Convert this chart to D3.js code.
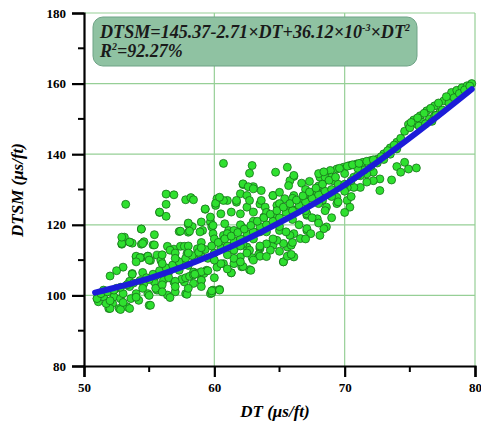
<!DOCTYPE html>
<html>
<head>
<meta charset="utf-8">
<script src="https://cdn.jsdelivr.net/npm/d3@7"></script>
<style>
  body { margin: 0; background: #fff; }
  svg { display: block; font-family: "Liberation Serif", "Times New Roman", serif; }
</style>
</head>
<body>
<div id="chart"></div>
<script>
var scatterPoints = [
  [53.2,125.8],[56.3,128.7],[56.9,128.5],[56.3,125.8],[55.8,123.5],[56.3,122.4],[57.8,127.1],[58.2,127.7],
  [58.4,127.1],[59.3,124.4],[54.4,118.8],[53.1,116.5],[55.4,117.2],[58.0,120.1],[57.3,118.1],[58.0,117.9],
  [58.3,119.5],[52.9,114.5],[53.5,115.1],[54.6,115.2],[54.4,114.5],[55.3,114.3],[56.4,113.9],[54.0,110.9],
  [54.4,110.7],[54.9,111.1],[55.6,111.4],[56.9,113.1],[57.4,113.9],[59.1,118.4],[59.7,120.8],
  [52.9,114.7],[53.7,114.8],[54.5,114.7],[55.4,114.3],[54.0,111.1],[54.9,111.1],[53.7,106.2],
  [51.0,99.1],[51.1,98.2],[51.8,98.2],[52.2,97.7],[52.7,96.3],[53.3,96.8],[51.9,96.3],[51.5,99.6],
  [52.3,99.6],[52.8,99.1],[53.6,99.1],[54.2,98.6],[55.0,97.2],[54.0,100.5],[54.9,100.5],[55.6,101.5],
  [56.4,100.1],[57.0,101.0],[57.8,100.5],[59.7,100.5],[54.6,103.4],[55.4,103.8],[56.1,104.3],[56.9,103.8],
  [57.7,103.8],[58.4,103.4],[59.0,104.3],[55.8,106.2],[56.5,106.6],[57.3,107.1],[58.4,106.6],[59.2,106.2],
  [55.1,109.9],[55.9,109.9],[56.6,112.8],[57.1,109.9],[57.9,111.8],[58.7,113.2],[57.7,113.9],
  [60.7,137.4],[62.9,136.8],[62.7,134.6],[64.7,134.9],[65.6,136.3],[66.1,133.7],[66.7,131.8],[65.8,132.5],
  [62.2,131.4],[63.0,130.8],[63.6,129.7],[64.5,128.3],[60.2,127.4],[61.0,126.9],[61.7,126.4],[59.3,124.5],
  [60.1,125.5],[62.5,125.0],[63.5,125.9],[64.9,125.0],[66.1,124.1],[67.1,122.7],[58.0,120.5],[58.1,118.2],
  [57.4,118.2],[58.9,118.0],[59.8,119.4],[61.1,118.4],[62.1,119.4],[63.5,118.0],[65.0,118.4],[66.1,117.5],
  [67.1,118.4],[60.4,115.1],[61.5,114.7],[62.5,113.7],[63.5,113.2],[64.5,114.2],[65.6,113.7],[66.1,110.9],
  [65.3,109.5],[63.4,111.6],[62.1,108.1],[62.7,107.3],[61.3,106.4],[59.9,101.5],[60.4,101.7],[59.8,100.7],
  [57.9,100.3],[56.6,99.4],[55.1,97.2],[53.5,96.3],[52.8,96.0],[52.0,96.3],[51.7,97.7],[51.0,99.1],
  [55.8,123.6],[54.4,118.8],[52.9,116.5],[53.5,115.1],[54.3,110.7],[53.7,106.0],
  [66.1,134.0],[60.1,126.1],[60.7,126.9],[60.4,127.8],[62.2,131.6],[62.6,130.8],[63.0,130.2],[64.5,128.3],
  [65.0,129.2],[65.7,131.1],[67.3,132.3],[68.1,133.5],[68.6,132.7],[62.0,128.8],[62.5,128.3],[61.7,126.9],
  [62.7,126.9],[63.6,126.9],[63.9,125.0],[64.8,125.5],[65.4,127.4],[66.1,128.3],[66.6,126.4],[67.4,128.3],
  [67.9,129.2],[68.3,126.9],[59.7,122.2],[60.5,123.1],[61.3,123.6],[62.0,123.1],[63.0,123.6],[63.8,122.2],
  [64.7,122.7],[65.6,124.1],[66.4,124.5],[67.1,123.1],[67.9,121.7],[68.6,119.4],[68.4,118.9],[67.1,118.9],
  [59.0,120.8],[59.9,119.8],[60.8,120.3],[61.5,118.4],[59.9,117.5],[60.7,117.0],
  [59.8,101.3],[60.4,101.5],[61.3,106.4],[62.2,108.2],[62.8,107.1],[62.9,110.7],[63.5,111.1],[64.3,112.8],
  [65.3,109.5],[65.6,111.1],[65.9,111.6],[65.9,114.2],[65.3,114.7],[64.8,115.6],[66.6,116.1],[65.8,117.0],
  [67.4,117.5],[68.1,117.0],[59.0,104.3],[59.4,107.1],[60.2,108.0],[60.7,109.0],[61.5,109.0],[62.0,110.9],
  [62.7,112.8],[63.5,113.7],[64.0,114.6],[62.2,114.6],[61.5,112.8],
  [78.2,157.5],[78.6,158.1],[79.0,158.8],[79.4,159.4],[79.75,160.0],[77.6,155.1],[76.9,153.7],[76.3,152.3],
  [75.8,150.9],[75.3,149.7],[74.9,148.4],[75.5,148.6],[76.0,149.0],[76.5,150.0],[76.9,150.9],[77.3,151.9],
  [74.0,143.4],[73.5,141.8],[73.0,140.1],[72.5,138.6],[72.0,138.2],[71.4,137.7],[70.9,137.2],[70.4,136.8],
  [69.9,136.3],[69.4,135.8],[68.9,135.4],[74.0,136.5],[74.6,137.7],[74.9,135.8],[75.5,136.1],[74.3,134.9],
  [73.6,132.7],[72.7,129.7],[72.7,133.0],[72.2,132.5],[71.7,132.1],[71.2,130.6],[70.7,130.6],[70.2,130.5],
  [72.2,134.9],[71.7,134.4],[71.2,133.9],[70.7,133.5],[69.1,132.5],[68.5,133.5],[68.6,128.8],[69.4,127.8],
  [70.2,126.9],[69.4,126.0],[68.6,125.0],[70.4,125.0],
  [57.5,104.6],[57.8,105.0],[58.1,105.4],[58.4,105.8],[58.7,106.3],[59.0,106.7],
  [55.0,104.5],[55.5,105.5],[56.0,106.5],[56.5,105.0],[57.0,108.0],[57.5,109.0],[58.0,108.5],[58.5,110.0],
  [59.0,111.0],[59.5,110.5],[60.0,112.0],[60.5,113.5],[61.0,114.0],[61.5,115.5],[62.0,116.0],[62.5,117.5],
  [63.0,118.0],[63.5,119.5],[64.0,120.0],[64.5,121.0],[65.0,122.0],[65.5,123.5],[66.0,124.0],[66.5,125.5],
  [67.0,126.5],[67.5,127.5],[68.0,128.5],[68.5,129.5],[69.0,130.0],[69.5,131.5],[70.0,131.5],[70.5,132.5],
  [71.0,134.0],[71.5,135.5],[72.0,136.5],[72.5,137.5],[73.0,138.5],[73.5,140.0],[74.0,141.5],
  [55.5,102.0],[56.0,103.0],[57.0,104.0],[58.5,106.0],[59.5,107.0],[60.5,109.0],[61.5,110.5],[62.5,112.0],
  [63.5,114.0],[64.5,116.0],[65.5,118.0],[66.5,120.0],[67.5,122.0],[68.5,124.0],[69.5,126.5],[70.5,128.0],
  [53.0,108.0],[54.0,109.5],[55.0,110.0],[56.0,111.5],[57.0,112.0],[58.0,114.0],[59.0,115.0],[60.0,116.0],
  [61.0,117.5],[62.0,120.0],[63.0,121.0],[64.0,123.5],[65.0,126.0],[66.0,127.5],[67.0,130.0],[68.0,131.0],
  [69.0,133.5],[70.0,134.5],[71.0,136.0],[52.0,105.5],[52.5,107.0],[53.5,104.0],[54.5,106.5],
  [51.5,101.5],[52.5,102.0],[53.0,100.5],[53.5,102.5],[54.5,102.0],
  // dense core along the trend
  [51.3,100.5],[51.8,101.0],[52.3,101.5],[52.8,102.3],[53.3,103.0],[53.8,103.5],[54.3,104.2],[54.8,105.0],
  [55.3,106.0],[55.8,107.0],[56.3,107.8],[56.8,108.6],[57.3,109.5],[57.8,110.5],[58.3,111.3],[58.8,112.2],
  [59.3,113.0],[59.8,114.0],[60.3,115.0],[60.8,116.0],[61.3,116.8],[61.8,117.8],[62.3,118.8],[62.8,119.8],
  [63.3,121.0],[63.8,122.0],[64.3,123.0],[64.8,124.0],[65.3,125.0],[65.8,126.0],[66.3,127.0],[66.8,128.2],
  [67.3,129.3],[67.8,130.4],[68.3,131.5],[68.8,132.6],[69.3,133.5],
  [52.0,98.5],[53.0,98.0],[54.0,99.5],[55.0,100.0],[56.0,101.0],[57.0,102.5],[58.0,102.0],[59.0,102.5],
  [60.0,105.0],[61.0,107.5],[62.0,109.5],[63.0,110.0],[64.0,111.0],[65.0,112.5],[66.0,115.0],[67.0,116.0],
  [68.0,120.5],[69.0,122.0],[70.0,123.5],
  [56.0,109.0],[57.0,110.5],[58.0,112.0],[59.0,113.5],[60.0,110.0],[61.0,111.5],[62.0,114.0],[63.0,116.0],
  [64.0,118.0],[65.0,119.5],[66.0,121.5],[67.0,124.0],[68.0,126.0],[69.0,128.0],[70.0,129.5],
  // upper trail
  [68.0,134.5],[68.4,135.0],[69.6,136.0],[70.2,136.6],[70.6,137.0],[71.1,137.4],[71.7,138.0],[72.2,138.4],
  [72.8,139.3],[73.3,141.0],[73.8,142.6],[74.3,144.5],[74.6,146.5],[75.0,147.5],[75.7,148.0],[76.2,148.6],
  [76.7,149.3],[77.0,151.0],[77.5,152.5],[78.0,154.5],[78.4,156.0],[78.8,157.2],[79.2,158.2],[79.6,159.3],
  [77.8,156.3],[77.2,154.5],[76.6,153.0],[76.1,151.6],[75.6,150.3],[75.1,149.0]
];

// fitted curve
var fitDT   = [50.85, 55, 60, 65, 70, 75, 79.75];
var fitDTSM = [100.8, 104.8, 111.7, 120.6, 131.3, 144.6, 158.4];

var xTicks = [50, 60, 70, 80];
var yTicks = [80, 100, 120, 140, 160, 180];
var xMinor = [55, 65, 75];
var yMinor = [90, 110, 130, 150, 170];

var width = 481, height = 424;
var margin = {top: 13, right: 6, bottom: 58, left: 84};

var x = d3.scaleLinear().domain([50, 80]).range([margin.left, width - margin.right]);
var y = d3.scaleLinear().domain([80, 180]).range([height - margin.bottom, margin.top]);

var svg = d3.select("#chart").append("svg")
    .attr("width", width)
    .attr("height", height);

// grid
var grid = svg.append("g").attr("stroke", "#96cf96").attr("stroke-width", 1.2);
grid.selectAll("line.gx")
    .data(xTicks.slice(1))
    .enter().append("line")
      .attr("x1", d => x(d)).attr("x2", d => x(d))
      .attr("y1", y(80)).attr("y2", y(180));
grid.selectAll("line.gy")
    .data(yTicks.slice(1))
    .enter().append("line")
      .attr("x1", x(50)).attr("x2", x(80))
      .attr("y1", d => y(d)).attr("y2", d => y(d));

// equation box
var box = svg.append("g");
box.append("rect")
    .attr("x", 93).attr("y", 17)
    .attr("width", 324).attr("height", 49)
    .attr("rx", 10).attr("ry", 10)
    .attr("fill", "#8fc2a2")
    .attr("stroke", "#6fa386")
    .attr("stroke-width", 1);

var t1 = box.append("text")
    .attr("x", 100).attr("y", 38)
    .attr("textLength", 310)
    .attr("lengthAdjust", "spacingAndGlyphs")
    .style("font-size", "18px").style("font-weight", "bold").style("font-style", "italic")
    .attr("fill", "#1a1a1a");
t1.append("tspan").text("DTSM=145.37-2.71×DT+36.12×10");
t1.append("tspan").attr("dy", -7).style("font-size", "10px").text("-3");
t1.append("tspan").attr("dy", 7).text("×DT");
t1.append("tspan").attr("dy", -7).style("font-size", "10px").text("2");

var t2 = box.append("text")
    .attr("x", 100).attr("y", 57)
    .style("font-size", "18px").style("font-weight", "bold").style("font-style", "italic")
    .attr("fill", "#1a1a1a");
t2.append("tspan").text("R");
t2.append("tspan").attr("dy", -7).style("font-size", "10px").text("2");
t2.append("tspan").attr("dy", 7).text("=92.27%");

// scatter
svg.append("g").selectAll("circle")
    .data(scatterPoints)
    .enter().append("circle")
      .attr("cx", d => x(d[0]))
      .attr("cy", d => y(d[1]))
      .attr("r", 4)
      .attr("fill", "#2fe02f")
      .attr("stroke", "#17701a")
      .attr("stroke-width", 0.8);

// fit line
var line = d3.line()
    .x(d => x(d))
    .y((d, i) => y(fitDTSM[i]))
    .curve(d3.curveCatmullRom);

svg.append("path")
    .datum(fitDT)
    .attr("d", line)
    .attr("fill", "none")
    .attr("stroke", "#1c1cd8")
    .attr("stroke-width", 6)
    .attr("stroke-linecap", "round");

// axes
var xAxis = d3.axisBottom(x).tickValues(xTicks).tickSize(11).tickPadding(6).tickFormat(d3.format("d"));
var yAxis = d3.axisLeft(y).tickValues(yTicks).tickSize(12).tickPadding(6).tickFormat(d3.format("d"));

var gx = svg.append("g")
    .attr("transform", "translate(0," + y(80) + ")")
    .call(xAxis);
var gy = svg.append("g")
    .attr("transform", "translate(" + x(50) + ",0)")
    .call(yAxis);

[gx, gy].forEach(function(g) {
  g.select(".domain").attr("stroke", "#000").attr("stroke-width", 2.2);
  g.selectAll(".tick line").attr("stroke", "#000").attr("stroke-width", 2.2);
  g.selectAll(".tick text")
    .attr("fill", "#000")
    .style("font-family", "'Liberation Serif', serif")
    .style("font-size", "13px")
    .style("font-weight", "bold");
});

svg.append("g").selectAll("line")
    .data(xMinor)
    .enter().append("line")
      .attr("x1", d => x(d)).attr("x2", d => x(d))
      .attr("y1", y(80)).attr("y2", y(80) + 6)
      .attr("stroke", "#000").attr("stroke-width", 2);
svg.append("g").selectAll("line")
    .data(yMinor)
    .enter().append("line")
      .attr("x1", x(50) - 6).attr("x2", x(50))
      .attr("y1", d => y(d)).attr("y2", d => y(d))
      .attr("stroke", "#000").attr("stroke-width", 2);

// axis titles
svg.append("text")
    .attr("x", 275).attr("y", 417)
    .attr("text-anchor", "middle")
    .style("font-size", "17px").style("font-weight", "bold").style("font-style", "italic")
    .text("DT (μs/ft)");

svg.append("text")
    .attr("transform", "translate(23," + 190 + ") rotate(-90)")
    .attr("text-anchor", "middle")
    .style("font-size", "17px").style("font-weight", "bold").style("font-style", "italic")
    .text("DTSM (μs/ft)");
</script>
</body>
</html>
